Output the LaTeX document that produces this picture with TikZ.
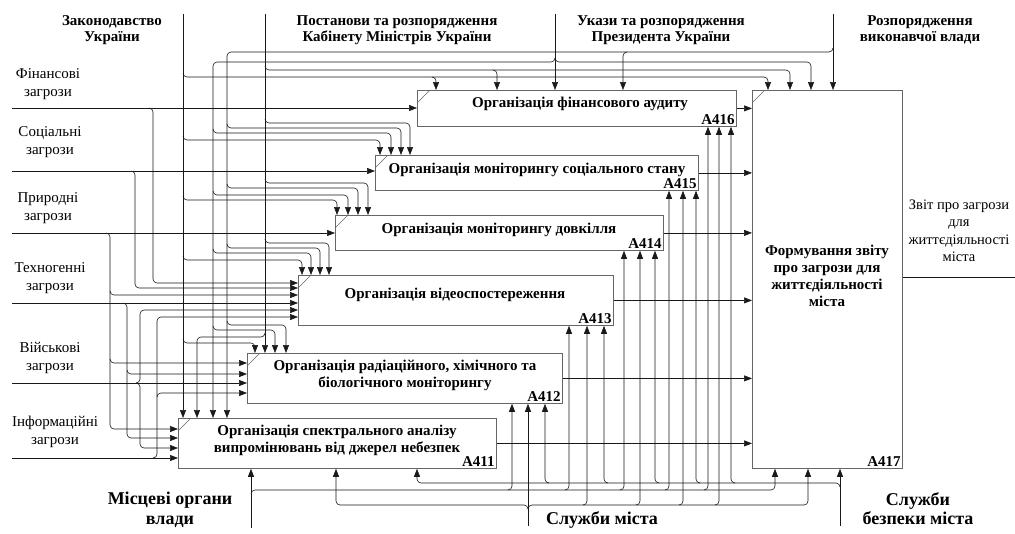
\documentclass[tikz,border=0pt]{standalone}
\usepackage{fontspec}
\setmainfont{Liberation Serif}
\usetikzlibrary{arrows.meta, positioning}

\begin{document}
\begin{tikzpicture}[
  x=1pt, y=-1pt,
  func/.style={draw=black!60, line width=0.8pt, anchor=north west, inner sep=0pt},
  btxt/.style={font=\fontsize{15}{17}\selectfont\bfseries, align=center},
  fid/.style={font=\fontsize{15}{15}\selectfont\bfseries, inner sep=2pt, anchor=south east},
  flow/.style={-{Triangle[length=8pt, width=6pt]}, line width=0.6pt, black!90, rounded corners=4pt},
  wire/.style={line width=0.6pt, black!90},
  corner/.style={draw=black!60, line width=0.6pt},
  inlbl/.style={font=\fontsize{15}{18}\selectfont, align=center},
  ctl/.style={font=\fontsize{15}{16.5}\selectfont\bfseries, align=center},
  mech/.style={font=\fontsize{18}{20}\selectfont\bfseries, align=center}
]
\useasboundingbox[fill=white] (0,0) rectangle (1015,533);

% functions
\node[func, minimum width=319pt, minimum height=36pt] (a416) at (417,90) {};
\node[func, minimum width=323pt, minimum height=35pt] (a415) at (375,155) {};
\node[func, minimum width=328pt, minimum height=35pt] (a414) at (335,215) {};
\node[func, minimum width=315pt, minimum height=50pt] (a413) at (298,275) {};
\node[func, minimum width=315pt, minimum height=50pt] (a412) at (247,353) {};
\node[func, minimum width=318pt, minimum height=50pt] (a411) at (178,418) {};
\node[func, minimum width=150pt, minimum height=378pt] (a417) at (752,90) {};

\node[btxt] (t416) at (580,104) {Організація фінансового аудиту};
\node[btxt] (t415) at (537,170) {Організація моніторингу соціального стану};
\node[btxt] (t414) at (499,230) {Організація моніторингу довкілля};
\node[btxt] (t413) at (455,295) {Організація відеоспостереження};
\node[btxt] (t412) at (405,375) {Організація радіаційного, хімічного та\\біологічного моніторингу};
\node[btxt] (t411) at (337,440) {Організація спектрального аналізу\\випромінювань від джерел небезпек};
\node[btxt] (t417) at (827,276) {Формування звіту\\про загрози для\\життєдіяльності\\міста};

\node[fid] at (a416.south east) {A416};
\node[fid] at (a415.south east) {A415};
\node[fid] at (a414.south east) {A414};
\node[fid] at (a413.south east) {A413};
\node[fid] at (a412.south east) {A412};
\node[fid] at (a411.south east) {A411};
\node[fid] at (a417.south east) {A417};

\draw[corner] ([yshift=-13pt]a416.north west) -- ([xshift=13pt]a416.north west);
\draw[corner] ([yshift=-13pt]a415.north west) -- ([xshift=13pt]a415.north west);
\draw[corner] ([yshift=-13pt]a414.north west) -- ([xshift=13pt]a414.north west);
\draw[corner] ([yshift=-13pt]a413.north west) -- ([xshift=13pt]a413.north west);
\draw[corner] ([yshift=-13pt]a412.north west) -- ([xshift=13pt]a412.north west);
\draw[corner] ([yshift=-13pt]a411.north west) -- ([xshift=13pt]a411.north west);
\draw[corner] ([yshift=-13pt]a417.north west) -- ([xshift=13pt]a417.north west);

% labels
\node[ctl] (l1) at (112,30) {Законодавство\\України};
\node[ctl] (l2) at (397,30) {Постанови та розпорядження\\Кабінету Міністрів України};
\node[ctl] (l3) at (661,30) {Укази та розпорядження\\Президента України};
\node[ctl] (l4) at (920,30) {Розпорядження\\виконавчої влади};

\node[inlbl] (n1) at (48,84) {Фінансові\\загрози};
\node[inlbl] (n2) at (50,142) {Соціальні\\загрози};
\node[inlbl] (n3) at (48,208) {Природні\\загрози};
\node[inlbl] (n4) at (50,278) {Техногенні\\загрози};
\node[inlbl] (n5) at (50,358) {Військові\\загрози};
\node[inlbl] (n6) at (55,432) {Інформаційні\\загрози};

\node[inlbl, font=\fontsize{14.5}{17.5}\selectfont] (nout) at (959,231) {Звіт про загрози\\для\\життєдіяльності\\міста};

\node[mech] (k1) at (170,510) {Місцеві органи\\влади};
\node[mech] (k2) at (602,520) {Служби міста};
\node[mech, font=\fontsize{18}{19}\selectfont\bfseries] (k3) at (918,509) {Служби\\безпеки міста};

% end points
\coordinate (c1) at (183,14);
\coordinate (c2) at (265,14);
\coordinate (c3) at (555,14);
\coordinate (c4) at (833,14);
\coordinate (i1) at (12,108);
\coordinate (i2) at (12,171);
\coordinate (i3) at (12,233);
\coordinate (i4) at (12,303);
\coordinate (i5) at (12,383);
\coordinate (i6) at (12,458);
\coordinate (m1) at (251,528);
\coordinate (m2) at (528,526);
\coordinate (m3) at (840,526);
\coordinate (out) at (1015,277);

% controls
\draw[flow] (c1) -- (a411.north -| c1);
\draw[flow] (183,73) |- (768,77) -- (a417.north -| 768,0);
\draw[flow] (432,77) -| (a416.north -| 436,0);
\draw[flow] (183,136) |- (380,140) -- (a415.north -| 380,0);
\draw[flow] (183,196) |- (337,200) -- (a414.north -| 337,0);
\draw[flow] (183,256) |- (302,260) -- (a413.north -| 302,0);
\draw[flow] (183,339) |- (255,343) -- (a412.north -| 255,0);

\draw[flow] (c2) -- (a412.north -| c2);
\draw[flow] (265,66) |- (790,70) -- (a417.north -| 790,0);
\draw[flow] (493,70) -| (a416.north -| 497,0);
\draw[flow] (265,119) |- (410,123) -- (a415.north -| 410,0);
\draw[flow] (265,179) |- (368,183) -- (a414.north -| 368,0);
\draw[flow] (265,239) |- (329,243) -- (a413.north -| 329,0);
\draw[flow] (265,333) |- (197,337) -- (a411.north -| 197,0);

\draw[flow] (c3) -- (a416.north -| c3);
\draw[flow] (555,58) |- (811,62) -- (a417.north -| 811,0);
\draw[flow] (555,58) |- (213,62) -- (a411.north -| 213,0);
\draw[flow] (213,129) |- (391,133) -- (a415.north -| 391,0);
\draw[flow] (213,191) |- (348,195) -- (a414.north -| 348,0);
\draw[flow] (213,249) |- (311,253) -- (a413.north -| 311,0);
\draw[flow] (213,326) |- (275,330) -- (a412.north -| 275,0);

\draw[flow] (c4) -- (a417.north -| c4);
\draw[flow] (833,48) |- (227,52) -- (a411.north -| 227,0);
\draw[flow] (627,52) -| (a416.north -| 623,0);
\draw[flow] (227,124) |- (401,128) -- (a415.north -| 401,0);
\draw[flow] (227,184) |- (358,188) -- (a414.north -| 358,0);
\draw[flow] (227,244) |- (320,248) -- (a413.north -| 320,0);
\draw[flow] (227,321) |- (286,325) -- (a412.north -| 286,0);

% inputs
\draw[flow] (i1) -- (a416.west |- i1);
\draw[flow] (149,108) -| (153,283) -- (a413.west |- 0,283);
\draw[flow] (i2) -- (a415.west |- i2);
\draw[flow] (131,171) -| (135,288) -- (a413.west |- 0,288);
\draw[flow] (i3) -- (a414.west |- i3);
\draw[flow] (106,233) -| (110,429) -- (a411.west |- 0,429);
\draw[flow] (110,291) |- (a413.west |- 0,295);
\draw[flow] (110,359) |- (a412.west |- 0,363);
\draw[flow] (i4) -- (a413.west |- i4);
\draw[flow] (123,303) -| (127,438) -- (a411.west |- 0,438);
\draw[flow] (127,370) |- (a412.west |- 0,374);
\draw[flow] (i5) -- (a412.west |- i5);
\draw[flow] (136,383) -| (140,310) -- (a413.west |- 0,310);
\draw[flow] (136,383) -| (140,448) -- (a411.west |- 0,448);
\draw[flow] (i6) -- (a411.west |- i6);
\draw[flow] (153,458) -| (157,317) -- (a413.west |- 0,317);
\draw[flow] (157,397) |- (a412.west |- 0,393);

% outputs
\draw[flow] (a416.east) -- (a417.west |- a416.east);
\draw[flow] (a415.east) -- (a417.west |- a415.east);
\draw[flow] (a414.east) -- (a417.west |- a414.east);
\draw[flow] (a413.east) -- (a417.west |- a413.east);
\draw[flow] (a412.east) -- (a417.west |- a412.east);
\draw[flow] (a411.east) -- (a417.west |- a411.east);
\draw[wire] (a417.east |- out) -- (out);

% mechanisms
\draw[flow] (m1) -- (a411.south -| m1);
\draw[flow] (251,494) |- (775,490) -- (a417.south -| 775,0);
\draw[flow] (508,490) -| (a412.south -| 512,0);
\draw[flow] (565,490) -| (a413.south -| 569,0);
\draw[flow] (620,490) -| (a414.south -| 624,0);
\draw[flow] (665,490) -| (a415.south -| 669,0);
\draw[flow] (704,490) -| (a416.south -| 708,0);

\draw[flow] (m2) -- (a412.south -| m2);
\draw[flow] (528,509) |- (336,505) -- (a411.south -| 336,0);
\draw[flow] (528,509) |- (808,505) -- (a417.south -| 808,0);
\draw[flow] (583,505) -| (a413.south -| 587,0);
\draw[flow] (636,505) -| (a414.south -| 640,0);
\draw[flow] (679,505) -| (a415.south -| 683,0);
\draw[flow] (715,505) -| (a416.south -| 719,0);

\draw[flow] (m3) -- (a417.south -| m3);
\draw[flow] (840,487) |- (417,483) -- (a411.south -| 417,0);
\draw[flow] (549,483) -| (a412.south -| 545,0);
\draw[flow] (608,483) -| (a413.south -| 604,0);
\draw[flow] (659,483) -| (a414.south -| 655,0);
\draw[flow] (700,483) -| (a415.south -| 696,0);
\draw[flow] (735,483) -| (a416.south -| 731,0);

\end{tikzpicture}
\end{document}
